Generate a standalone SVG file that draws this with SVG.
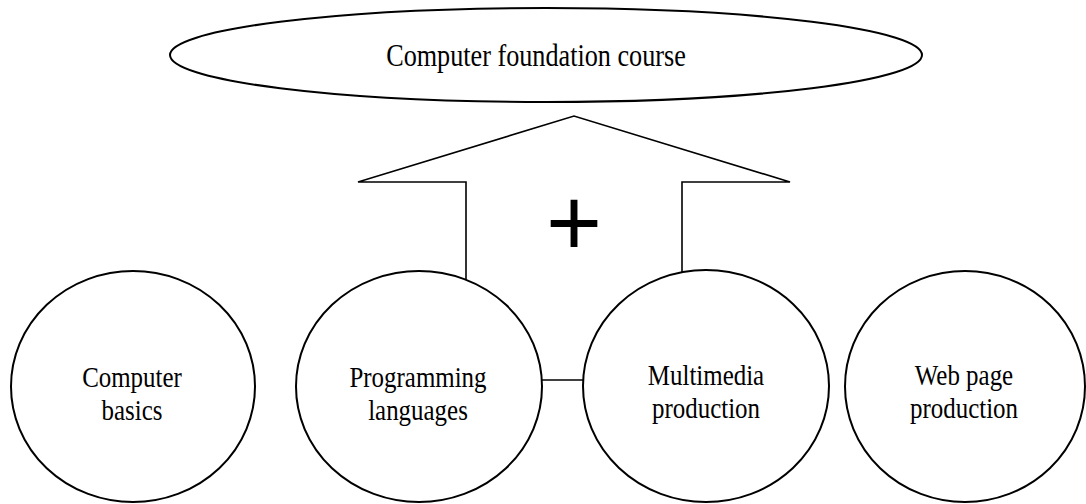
<svg xmlns="http://www.w3.org/2000/svg" width="1086" height="504" viewBox="0 0 1086 504">
  <style>
    .shape { fill: #ffffff; stroke: #000000; stroke-width: 2; }
    .line { fill: none; stroke: #000000; stroke-width: 1.6; }
    .label { font-family: "Liberation Serif", "Times New Roman", serif; font-size: 29px; fill: #000000; text-anchor: middle; }
    .title { font-family: "Liberation Serif", "Times New Roman", serif; font-size: 31px; fill: #000000; text-anchor: middle; }
    .plus { font-family: "Liberation Sans", Arial, sans-serif; font-size: 96px; fill: #000000; text-anchor: middle; }
  </style>

  <!-- top: course ellipse -->
  <g id="course">
    <ellipse class="shape" cx="546" cy="55" rx="376" ry="47"/>
    <text class="title" transform="translate(536,66) scale(0.845,1)">Computer foundation course</text>
  </g>

  <!-- big upward arrow with the plus sign -->
  <g id="combine-arrow">
    <path class="line" d="M466,300 L466,182 L358,182 L574,116 L790,182 L682,182 L682,300" fill="#ffffff"/>
    <text class="plus" x="574" y="256">+</text>
  </g>

  <!-- connectors -->
  <g id="connectors">
    <line class="line" x1="541" y1="380" x2="584" y2="380"/>
  </g>

  <!-- subject circles -->
  <g id="computer-basics">
    <ellipse class="shape" cx="133" cy="386.5" rx="122" ry="115.5"/>
    <text class="label" transform="translate(132,387) scale(0.86,1)">Computer</text>
    <text class="label" transform="translate(132,420) scale(0.86,1)">basics</text>
  </g>

  <g id="programming-languages">
    <ellipse class="shape" cx="419" cy="386.5" rx="123" ry="115.5"/>
    <text class="label" transform="translate(418,387) scale(0.86,1)">Programming</text>
    <text class="label" transform="translate(418,420) scale(0.86,1)">languages</text>
  </g>

  <g id="multimedia-production">
    <ellipse class="shape" cx="706" cy="386" rx="123" ry="116"/>
    <text class="label" transform="translate(706,385) scale(0.86,1)">Multimedia</text>
    <text class="label" transform="translate(706,418) scale(0.86,1)">production</text>
  </g>

  <g id="web-page-production">
    <ellipse class="shape" cx="965" cy="386.5" rx="120" ry="115.5"/>
    <text class="label" transform="translate(964,385) scale(0.86,1)">Web page</text>
    <text class="label" transform="translate(964,418) scale(0.86,1)">production</text>
  </g>
</svg>
